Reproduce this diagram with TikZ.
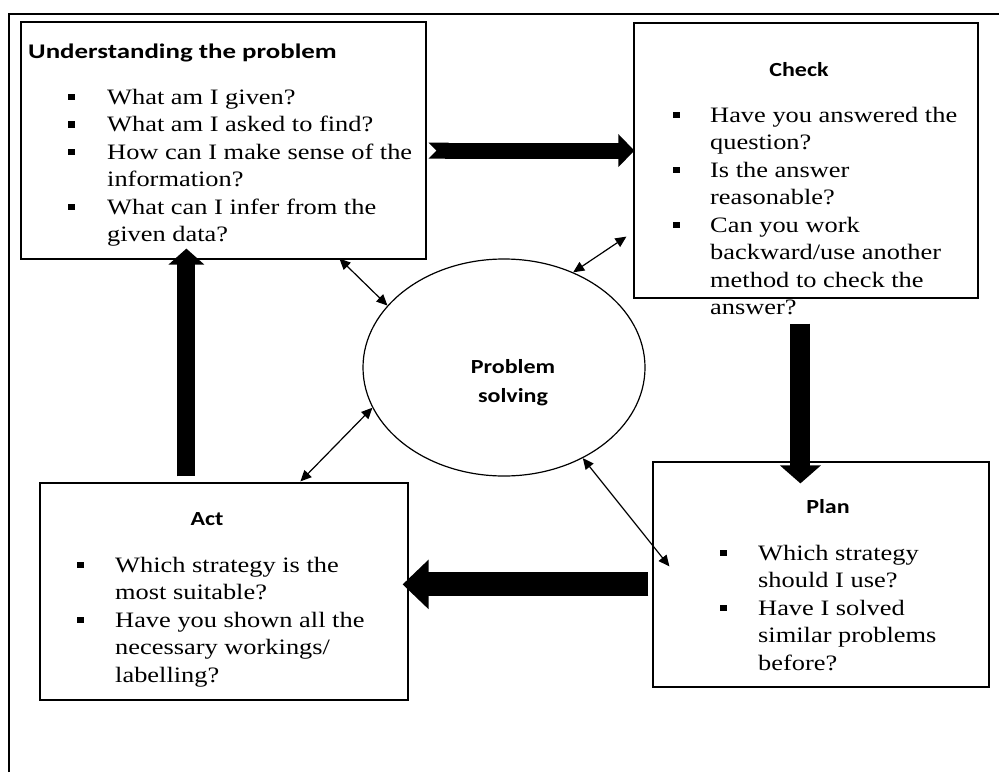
\documentclass[tikz,border=0pt]{standalone}
\usepackage{fontspec}
\setmainfont{Liberation Serif}[FakeStretch=1.2]
\newfontfamily\ttlfont{Carlito}[FakeStretch=1.2]
\usetikzlibrary{arrows.meta,shapes.geometric,calc}
\newcommand{\bul}{\raisebox{4pt}{\rule{6.5pt}{6.5pt}}}
\newcommand{\ttl}[1]{{\ttlfont\bfseries\fontsize{20}{24}\selectfont #1}}
\tikzset{
  box/.style={draw, line width=1.2pt, inner sep=0pt},
  txt/.style={inner sep=0pt, font=\fontsize{22}{27.5}\selectfont},
  head/.style={inner sep=0pt},
  dbl/.style={line width=1.2pt, {Triangle[length=11pt,width=10pt]}-{Triangle[length=11pt,width=10pt]}},
}
\begin{document}
\begin{tikzpicture}[x=1pt,y=-1pt]
\useasboundingbox (0,0) rectangle (999,772);
% outer frame (only left and top edges visible)
\draw[line width=1.3pt] (9,772) -- (9,14) -- (999,14);

% boxes
\node[box, minimum width=405pt, minimum height=237pt] (U) at (223.5,140.5) {};
\node[box, minimum width=344pt, minimum height=275pt] (C) at (806,160.5) {};
\node[box, minimum width=368pt, minimum height=217pt] (A) at (224,591.5) {};
\node[box, minimum width=336pt, minimum height=225pt] (P) at (821,574.5) {};
\node[draw, ellipse, line width=1.2pt, inner sep=0pt, minimum width=282pt, minimum height=217pt] (E) at (504,367.5) {};

% titles
\node[head, anchor=base west] (Uh) at (28,58) {\scalebox{1.12}[1.04]{\ttl{Understanding the problem}}};
\node[head, anchor=base] (Ch) at (799,76) {\ttl{Check}};
\node[head, anchor=base] (Ah) at (207,525) {\ttl{Act}};
\node[head, anchor=base] (Ph) at (828,513) {\ttl{Plan}};
\node[head, anchor=base] (E1) at (513,373) {\ttl{Problem}};
\node[head, anchor=base] (E2) at (513,402) {\ttl{solving}};

% bullet texts
\node[txt, anchor=base west] (Ut) at (68,104) {\begin{tabular}[t]{@{}p{39pt}@{}l@{}}
\bul & What am I given?\\
\bul & What am I asked to find?\\
\bul & How can I make sense of the\\
 & information?\\
\bul & What can I infer from the\\
 & given data?
\end{tabular}};
\node[txt, anchor=base west] (Ct) at (673,122) {\begin{tabular}[t]{@{}p{37pt}@{}l@{}}
\bul & Have you answered the\\
 & question?\\
\bul & Is the answer\\
 & reasonable?\\
\bul & Can you work\\
 & backward/use another\\
 & method to check the\\
 & answer?
\end{tabular}};
\node[txt, anchor=base west] (At) at (77,572) {\begin{tabular}[t]{@{}p{38pt}@{}l@{}}
\bul & Which strategy is the\\
 & most suitable?\\
\bul & Have you shown all the\\
 & necessary workings/\\
 & labelling?
\end{tabular}};
\node[txt, anchor=base west] (Pt) at (720,560) {\begin{tabular}[t]{@{}p{38pt}@{}l@{}}
\bul & Which strategy\\
 & should I use?\\
\bul & Have I solved\\
 & similar problems\\
 & before?
\end{tabular}};

% thick cycle arrows
\draw[line width=16pt, {Triangle Cap[reversed]}-{Triangle[length=16pt,width=32pt]}]
  ($(U.south east)+(2,-109)$) -- ($(C.south west)+(1,-148)$);
\draw[line width=20pt, -{Triangle[length=18pt,width=40pt]}]
  ($(C.south west)+(167,25)$) -- ($(P.north west)+(148,22)$);
\draw[line width=24pt, -{Triangle[length=26pt,width=48pt]}]
  ($(P.north west)+(-4,123)$) -- ($(A.north east)+(-6,102)$);
\draw[line width=18pt, -{Triangle[length=16pt,width=35pt]}]
  ($(A.north west)+(147,-6)$) -- ($(U.south west)+(166,-11)$);

% thin double arrows to the centre
\draw[dbl] ($(U.south west)+(319,-1)$) -- (E.152);
\draw[dbl] (E.54) -- ($(C.south west)+(-7,-62)$);
\draw[dbl] (E.197) -- ($(A.north west)+(261,-1)$);
\draw[dbl] (E.311) -- ($(P.north west)+(17,105)$);
\end{tikzpicture}
\end{document}
